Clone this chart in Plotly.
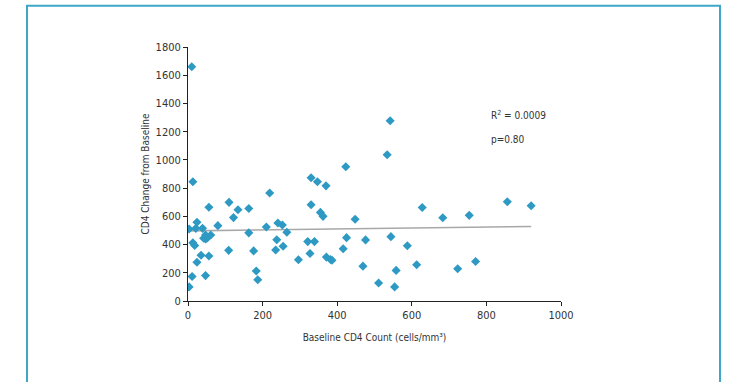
import plotly.graph_objects as go

# Baseline CD4 count (cells/mm3) and CD4 change from baseline
baseline_cd4 = [3, 3, 10, 13, 11, 13, 18, 21, 24, 24, 35, 39, 42, 47, 47, 47, 51, 56, 56, 61,
                80, 110, 109, 122, 134, 163, 163, 176, 183, 187, 210, 219, 235, 238, 241, 253, 255, 265,
                296, 321, 327, 330, 330, 339, 347, 355, 362, 370, 371, 382, 386, 416, 425,
                542, 534, 423, 628, 856, 920, 683, 754, 448, 476, 544, 588, 469, 558, 613, 723, 771, 511, 554]
cd4_change = [510, 100, 1660, 845, 174, 412, 393, 515, 558, 275, 324, 515, 445, 440, 468, 180, 445, 664, 319, 468,
              534, 699, 359, 591, 647, 656, 483, 355, 213, 151, 524, 765, 361, 434, 553, 539, 388, 487,
              292, 421, 337, 873, 682, 421, 845, 628, 600, 816, 311, 294, 289, 370, 449,
              1277, 1036, 951, 663, 703, 675, 590, 607, 579, 433, 456, 392, 247, 217, 257, 229, 280, 128, 100]

# Linear trend line end points
trend_x = [0, 920]
trend_y = [497, 528]

x_ticks = [0, 200, 400, 600, 800, 1000]
y_ticks = [0, 200, 400, 600, 800, 1000, 1200, 1400, 1600, 1800]

FONT = "Liberation Sans Narrow, DejaVu Sans Condensed, Arial Narrow, sans-serif"
TEXT = "#333333"

fig = go.Figure()
fig.add_trace(go.Scatter(
    x=trend_x, y=trend_y, mode="lines",
    line=dict(color="#a8a8a8", width=1.6),
    showlegend=False, hoverinfo="skip"))
fig.add_trace(go.Scatter(
    x=baseline_cd4, y=cd4_change, mode="markers",
    marker=dict(symbol="diamond", size=7, color="#2e9ac4", line=dict(width=0)),
    showlegend=False))

fig.update_layout(
    width=736, height=382,
    margin=dict(l=188, r=175, t=47, b=81),
    paper_bgcolor="white", plot_bgcolor="white",
    font=dict(family=FONT, size=10, color=TEXT),
    xaxis=dict(range=[0, 1000], tickvals=x_ticks, showgrid=False, zeroline=False,
               showline=True, linecolor="#222222", linewidth=1,
               ticks="outside", ticklen=4, tickcolor="#222222",
               tickfont=dict(family=FONT, size=11, color=TEXT),
               title=dict(text="Baseline CD4 Count (cells/mm³)", standoff=12,
                          font=dict(family=FONT, size=10, color=TEXT))),
    yaxis=dict(range=[0, 1800], tickvals=y_ticks, showgrid=False, zeroline=False,
               showline=True, linecolor="#222222", linewidth=1,
               ticks="outside", ticklen=4, tickcolor="#222222",
               tickfont=dict(family=FONT, size=11, color=TEXT),
               title=dict(text="CD4 Change from Baseline", standoff=4,
                          font=dict(family=FONT, size=10, color=TEXT))),
    shapes=[dict(type="path", xref="paper", yref="paper",
                 path="M -0.4316,-0.40 L -0.4316,1.162 L 1.4263,1.162 L 1.4263,-0.40",
                 line=dict(color="#3fa6c9", width=2))],
    annotations=[
        dict(x=806, y=1315, xref="x", yref="y", text="R<sup>2</sup> = 0.0009", showarrow=False,
             xanchor="left", yanchor="middle", font=dict(family=FONT, size=10, color=TEXT)),
        dict(x=806, y=1145, xref="x", yref="y", text="p=0.80", showarrow=False,
             xanchor="left", yanchor="middle", font=dict(family=FONT, size=10, color=TEXT)),
    ],
)

fig.write_html("out.html", config={"displayModeBar": False},
               post_script="document.body.style.margin='0';document.body.style.overflow='hidden';")
